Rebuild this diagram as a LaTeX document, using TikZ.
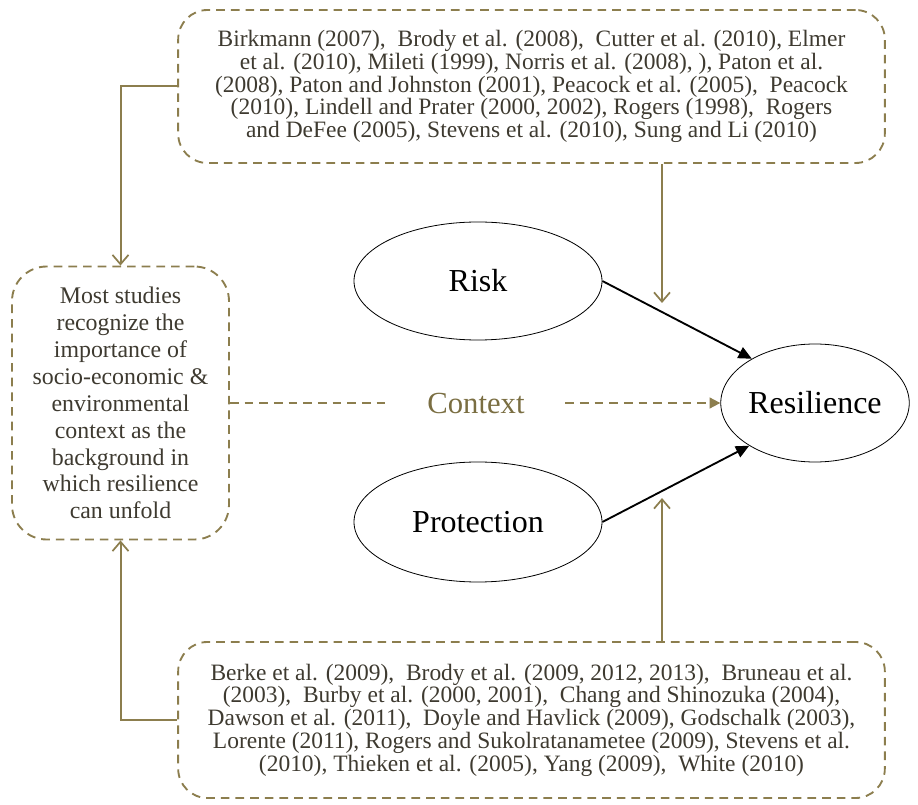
\documentclass[tikz,border=0pt]{standalone}
\usepackage{fontspec}
\setmainfont{Liberation Serif}
\usetikzlibrary{arrows.meta,shapes.geometric}

\definecolor{linkolive}{RGB}{140,126,78}
\definecolor{boxtext}{RGB}{62,58,48}
\definecolor{ctxtext}{RGB}{122,110,66}

\tikzset{
  refbox/.style={draw=linkolive, line width=1.4pt, dash pattern=on 6.5pt off 4.5pt,
    align=center, text=boxtext, inner sep=0pt,
    font=\fontsize{17.6}{17.1}\selectfont},
  construct/.style={draw=black, line width=0.6pt, ellipse, inner sep=0pt,
    font=\fontsize{24}{25}\selectfont},
  link/.style={draw=linkolive, line width=1.5pt,
    -{Straight Barb[length=7pt,width=12pt,line width=1.3pt]}},
  effect/.style={draw=black, line width=1.4pt, -{Triangle[length=10pt,width=9pt]}},
  ctxline/.style={draw=linkolive, line width=1.4pt, dash pattern=on 6.5pt off 4.5pt},
}

\begin{document}
\begin{tikzpicture}[x=0.75pt,y=-0.75pt]
\useasboundingbox (0,0) rectangle (918,805);

% literature boxes
\node[refbox, rounded corners=22pt, minimum width=530pt, minimum height=114.75pt]
  (top) at (531.5,86.5)
  {Birkmann (2007),\ \ Brody et al. (2008),\ \ Cutter et al. (2010), Elmer\\
   et al. (2010), Mileti (1999), Norris et al. (2008), ), Paton et al.\\
   (2008), Paton and Johnston (2001), Peacock et al. (2005),\ \ Peacock\\
   (2010), Lindell and Prater (2000, 2002), Rogers (1998),\ \ Rogers\\
   and DeFee (2005), Stevens et al. (2010), Sung and Li (2010)};

\node[refbox, rounded corners=22pt, minimum width=530pt, minimum height=117pt]
  (bot) at (531.5,720)
  {Berke et al. (2009),\ \ Brody et al. (2009, 2012, 2013),\ \ Bruneau et al.\\
   (2003),\ \ Burby et al. (2000, 2001),\ \ Chang and Shinozuka (2004),\\
   Dawson et al. (2011),\ \ Doyle and Havlick (2009), Godschalk (2003),\\
   Lorente (2011), Rogers and Sukolratanametee (2009), Stevens et al.\\
   (2010), Thieken et al. (2005), Yang (2009),\ \ White (2010)};

\node[refbox, rounded corners=26pt, minimum width=162.75pt, minimum height=204.75pt,
  font=\fontsize{17.9}{20.2}\selectfont]
  (ctxbox) at (120.5,403)
  {Most studies\\ recognize the\\ importance of\\ socio-economic \&\\
   environmental\\ context as the\\ background in\\ which resilience\\ can unfold};

% constructs
\node[construct, minimum width=186pt, minimum height=88.5pt] (risk) at (478,281) {Risk};
\node[construct, minimum width=186pt, minimum height=90pt] (prot) at (478,522) {Protection};
\node[construct, minimum width=138pt, minimum height=88.5pt] (res) at (815,403) {Resilience};

\node[text=ctxtext, font=\fontsize{23}{24}\selectfont, inner sep=0pt,
  minimum width=133.5pt] (ctx) at (476,403) {Context};

% connectors
\coordinate (toptip) at (662,303);
\coordinate (bottip) at (662,498);

\draw[link] (top.west) -| (ctxbox.north);
\draw[link] (bot.west) -| (ctxbox.south);
\draw[link] (top.south -| toptip) -- (toptip);
\draw[link] (bot.north -| bottip) -- (bottip);

\draw[effect] (risk.east) -- (res.145);
\draw[effect] (prot.east) -- (res.213);

\draw[ctxline] (ctxbox.east) -- (ctx.west);
\draw[ctxline, -{Triangle[length=8pt,width=8pt]}] (ctx.east) -- (res.west);
\end{tikzpicture}
\end{document}
